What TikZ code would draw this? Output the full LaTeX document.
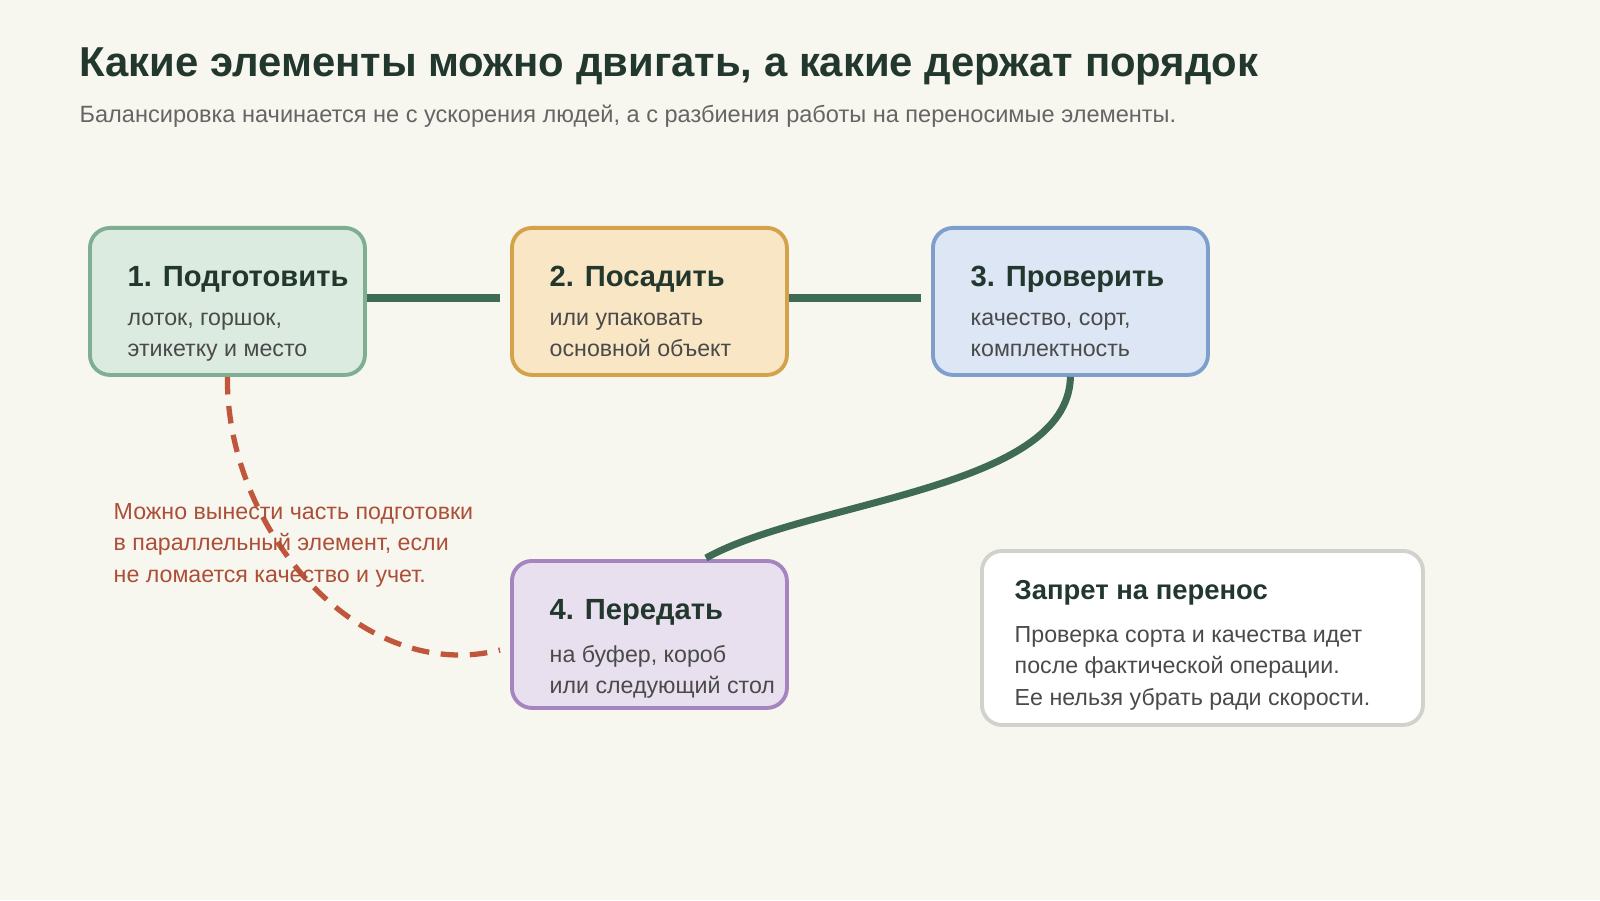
\documentclass[tikz,border=0pt]{standalone}
\usepackage{fontspec}
\setmainfont{Liberation Sans}
\begin{document}
\begin{tikzpicture}[
  box/.style={draw, line width=1.1pt, rounded corners=0.2cm, minimum width=2.75cm, minimum height=1.47cm, anchor=north west, inner sep=0},
  head/.style={anchor=base west, inner sep=0, font=\fontsize{8.3}{10}\selectfont\bfseries, text=ink},
  body/.style={anchor=north west, inner sep=0, align=left, font=\fontsize{6.6}{8.8}\selectfont, text=bodyc},
  conn/.style={draw=linkc, line width=2pt},
]
\definecolor{bg}{HTML}{F7F7F0}
\definecolor{ink}{HTML}{22372D}
\definecolor{bodyc}{HTML}{4A4A4A}
\definecolor{linkc}{HTML}{3F6B55}
\definecolor{redc}{HTML}{C0573C}
\useasboundingbox (0,0) rectangle (16,9);
\fill[bg] (0,0) rectangle (16,9);
\node[anchor=base west, inner sep=0, font=\fontsize{11.9}{13}\selectfont\bfseries, text=ink] (title) at (0.79,8.23) {Какие элементы можно двигать, а какие держат порядок};
\node[anchor=base west, inner sep=0, font=\fontsize{6.7}{8}\selectfont, text=bodyc!85] (sub) at (0.79,7.77) {Балансировка начинается не с ускорения людей, а с разбиения работы на переносимые элементы.};

\node[box, draw={rgb,255:red,127;green,174;blue,148}, fill={rgb,255:red,220;green,235;blue,224}] (b1) at (0.88,6.74) {};
\node[box, draw={rgb,255:red,212;green,162;blue,74}, fill={rgb,255:red,248;green,230;blue,196}] (b2) at (5.10,6.74) {};
\node[box, draw={rgb,255:red,126;green,159;blue,203}, fill={rgb,255:red,220;green,230;blue,245}] (b3) at (9.31,6.74) {};
\node[box, draw={rgb,255:red,165;green,133;blue,192}, fill={rgb,255:red,232;green,224;blue,238}] (b4) at (5.10,3.41) {};
\node[box, draw={rgb,255:red,210;green,210;blue,205}, fill=white, minimum width=4.41cm, minimum height=1.74cm] (b5) at (9.80,3.51) {};

\node[head] at (1.27,6.14) {1. Подготовить};
\node[body] at (1.27,5.88) {лоток, горшок,\\этикетку и место};
\node[head] at (5.49,6.14) {2. Посадить};
\node[body] at (5.49,5.88) {или упаковать\\основной объект};
\node[head] at (9.70,6.14) {3. Проверить};
\node[body] at (9.70,5.88) {качество, сорт,\\комплектность};
\node[head] at (5.49,2.81) {4. Передать};
\node[body] at (5.49,2.55) {на буфер, короб\\или следующий стол};
\node[head, font=\fontsize{7.8}{9}\selectfont\bfseries] at (10.14,3.01) {Запрет на перенос};
\node[body, font=\fontsize{6.6}{8.9}\selectfont] at (10.14,2.74) {Проверка сорта и качества идет\\после фактической операции.\\Ее нельзя убрать ради скорости.};

\draw[conn, shorten >=0.1cm] (b1.east |- 0,6.02) -- (b2.west |- 0,6.02);
\draw[conn, shorten >=0.1cm] (b2.east |- 0,6.02) -- (b3.west |- 0,6.02);
\draw[conn] (b3.south) .. controls (10.68,4.1) and (8.1,4.0) .. (7.06,3.42);
\draw[draw=redc, line width=1.5pt, dash pattern=on 5pt off 3.3pt] (b1.south) .. controls (2.26,3.7) and (3.6,2.15) .. (5.00,2.50);
\node[body, text=redc!90!black, font=\fontsize{6.6}{8.9}\selectfont] (note) at (1.13,3.97) {Можно вынести часть подготовки\\в параллельный элемент, если\\не ломается качество и учет.};
\end{tikzpicture}
\end{document}
